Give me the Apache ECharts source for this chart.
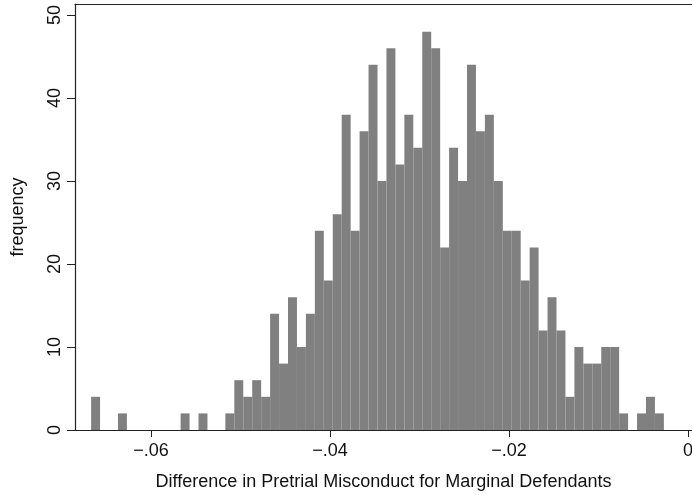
<!DOCTYPE html>
<html>
<head>
<meta charset="utf-8">
<script src="https://cdn.jsdelivr.net/npm/echarts@6/dist/echarts.min.js"></script>
<style>
  html, body { margin: 0; padding: 0; background: #fff; }
  #chart { width: 692px; height: 495px; }
</style>
</head>
<body>
<div id="chart"></div>
<script>
// histogram bins: left edge of first bin and bin width
const binStart = -0.0667
const binWidth = 0.001
const counts = [
  4, 0, 0, 2, 0, 0, 0, 0, 0, 0,
  2, 0, 2, 0, 0, 2, 6, 4, 6, 4,
  14, 8, 16, 10, 14, 24, 18, 26, 38, 24,
  36, 44, 30, 46, 32, 38, 34, 48, 46, 22,
  34, 30, 44, 36, 38, 30, 24, 24, 18, 22,
  12, 16, 12, 4, 10, 8, 8, 10, 10, 2,
  0, 2, 4, 2
]
const xTicks = [-0.06, -0.04, -0.02, 0]
const yTicks = [0, 10, 20, 30, 40, 50]

const fontFamily = '"Liberation Sans", Arial, sans-serif'
const textColor = '#111'
const lineColor = '#222'
const barColor = '#808080'

const binData = counts.map((c, i) => {
  const lo = binStart + i * binWidth
  return [lo, lo + binWidth, c]
})

// stata style: -.06 with a real minus sign
const fmtX = (v) => {
  if (Math.abs(v) < 1e-9) return '0'
  const s = Math.abs(v).toFixed(2).replace(/^0/, '')
  return (v < 0 ? '\u2212' : '') + s
}

const chart = echarts.init(document.getElementById('chart'))

const option = {
  animation: false,
  backgroundColor: '#fff',
  grid: {
    left: 75, right: 0, top: 4, bottom: 65,
    outerBoundsMode: 'none',
    containLabel: false
  },
  xAxis: [{
    type: 'value',
    min: -0.0685,
    max: 0.00044,
    name: 'Difference in Pretrial Misconduct for Marginal Defendants',
    nameLocation: 'middle',
    nameGap: 43,
    nameTextStyle: { color: textColor, fontSize: 18, fontFamily },
    splitLine: { show: false },
    axisLine: { show: true, onZero: false, lineStyle: { color: lineColor, width: 1.2 } },
    axisTick: { show: true, length: 7, lineStyle: { color: lineColor }, customValues: xTicks },
    axisLabel: {
      color: textColor, fontSize: 18, fontFamily, margin: 12,
      customValues: xTicks, formatter: fmtX
    }
  }, {
    // top frame line only
    type: 'value',
    position: 'top',
    min: -0.0685,
    max: 0.00044,
    splitLine: { show: false },
    axisLine: { show: true, onZero: false, lineStyle: { color: lineColor, width: 1.2 } },
    axisTick: { show: false },
    axisLabel: { show: false }
  }],
  yAxis: {
    type: 'value',
    position: 'left',
    min: 0,
    max: 51.33,
    name: 'frequency',
    nameLocation: 'middle',
    nameRotate: 90,
    nameGap: 48,
    nameTextStyle: { color: textColor, fontSize: 18, fontFamily },
    splitLine: { show: false },
    axisLine: { show: true, onZero: false, lineStyle: { color: lineColor, width: 1.2 } },
    axisTick: { show: true, length: 8, lineStyle: { color: lineColor }, customValues: yTicks },
    axisLabel: {
      color: textColor, fontSize: 18, fontFamily, margin: 11, rotate: 90,
      customValues: yTicks
    }
  },
  series: [{
    type: 'custom',
    data: binData,
    encode: { x: [0, 1], y: 2 },
    renderItem: (params, api) => {
      const h = api.value(2)
      if (!h) return
      const p0 = api.coord([api.value(0), h])
      const p1 = api.coord([api.value(1), 0])
      return {
        type: 'rect',
        shape: { x: p0[0], y: p0[1], width: p1[0] - p0[0], height: p1[1] - p0[1] },
        style: { fill: barColor }
      }
    }
  }]
}

chart.setOption(option)
</script>
</body>
</html>
